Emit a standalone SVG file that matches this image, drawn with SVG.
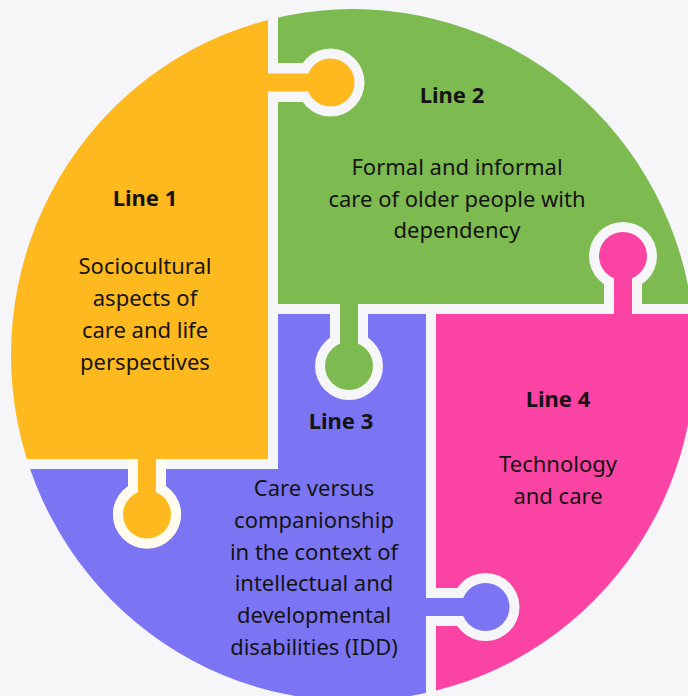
<svg xmlns="http://www.w3.org/2000/svg" xmlns:xlink="http://www.w3.org/1999/xlink" width="688" height="696" viewBox="0 0 688 696">
  <style>
    .bg { fill: #F6F6F8; }
    .yellow { fill: #FEB91E; }
    .green { fill: #7DBB51; }
    .purple { fill: #7C75F3; }
    .pink { fill: #FB43A4; }
    text { font-family: "Noto Sans", "Open Sans", sans-serif; font-size: 22px; fill: #141414; text-anchor: middle; }
    .title { font-weight: bold; }
  </style>
  <defs>
    <!-- outline of the whole puzzle disc -->
    <clipPath id="disc">
      <ellipse cx="353" cy="355" rx="342" ry="346"/>
    </clipPath>
    <!-- socket shapes: knob circle plus neck, 10px wider than the knob itself -->
    <g id="sock-yg"><circle cx="330.5" cy="82.5" r="34"/><rect x="268" y="63" width="62.5" height="39"/></g>
    <g id="sock-pg"><circle cx="623" cy="256" r="34"/><rect x="604" y="256" width="38" height="58"/></g>
    <g id="sock-gp"><circle cx="349" cy="366" r="34"/><rect x="330" y="304" width="38" height="62"/></g>
    <g id="sock-yp"><circle cx="147" cy="514.5" r="34"/><rect x="128" y="459" width="38" height="55.5"/></g>
    <g id="sock-vp"><circle cx="485.5" cy="607" r="34"/><rect x="426" y="588" width="59.5" height="38"/></g>
    <mask id="m-green" maskUnits="userSpaceOnUse" x="0" y="0" width="688" height="696">
      <rect width="688" height="696" fill="#fff"/>
      <use xlink:href="#sock-yg" fill="#000"/>
      <use xlink:href="#sock-pg" fill="#000"/>
    </mask>
    <mask id="m-purple" maskUnits="userSpaceOnUse" x="0" y="0" width="688" height="696">
      <rect width="688" height="696" fill="#fff"/>
      <use xlink:href="#sock-gp" fill="#000"/>
      <use xlink:href="#sock-yp" fill="#000"/>
    </mask>
    <mask id="m-pink" maskUnits="userSpaceOnUse" x="0" y="0" width="688" height="696">
      <rect width="688" height="696" fill="#fff"/>
      <use xlink:href="#sock-vp" fill="#000"/>
    </mask>
  </defs>

  <rect class="bg" width="688" height="696"/>

  <g clip-path="url(#disc)">
    <!-- Line 2: green, top right -->
    <g id="line2">
      <rect class="green" x="278" y="0" width="410" height="304" mask="url(#m-green)"/>
      <!-- knob reaching down into Line 3 -->
      <rect class="green" x="340" y="298" width="18" height="68"/>
      <circle class="green" cx="349" cy="366" r="24"/>
    </g>

    <!-- Line 3: purple, bottom middle -->
    <g id="line3">
      <path class="purple" d="M0 469H278V314H426V696H0Z" mask="url(#m-purple)"/>
      <!-- knob reaching right into Line 4 -->
      <rect class="purple" x="420" y="598" width="65.5" height="18"/>
      <circle class="purple" cx="485.5" cy="607" r="24"/>
    </g>

    <!-- Line 4: pink, bottom right -->
    <g id="line4">
      <rect class="pink" x="436" y="314" width="252" height="382" mask="url(#m-pink)"/>
      <!-- knob reaching up into Line 2 -->
      <rect class="pink" x="614" y="256" width="18" height="64"/>
      <circle class="pink" cx="623" cy="256" r="24"/>
    </g>

    <!-- Line 1: yellow, left -->
    <g id="line1">
      <rect class="yellow" x="0" y="0" width="268" height="459"/>
      <!-- knob reaching right into Line 2 -->
      <rect class="yellow" x="262" y="73.5" width="68.5" height="18"/>
      <circle class="yellow" cx="330.5" cy="82.5" r="24"/>
      <!-- knob reaching down into Line 3, set in a cream rim -->
      <use xlink:href="#sock-yp" fill="#FFFBEE"/>
      <rect class="yellow" x="138" y="453" width="18" height="61.5"/>
      <circle class="yellow" cx="147" cy="514.5" r="24"/>
    </g>
  </g>

  <!-- labels -->
  <g id="labels">
    <g id="label1">
      <text class="title" x="145" y="206">Line 1</text>
      <text x="145" y="274">Sociocultural</text>
      <text x="145" y="306">aspects of</text>
      <text x="145" y="338">care and life</text>
      <text x="145" y="370">perspectives</text>
    </g>
    <g id="label2">
      <text class="title" x="452" y="103">Line 2</text>
      <text x="457" y="175">Formal and informal</text>
      <text x="457" y="207">care of older people with</text>
      <text x="457" y="238">dependency</text>
    </g>
    <g id="label3">
      <text class="title" x="341" y="429">Line 3</text>
      <text x="314" y="496">Care versus</text>
      <text x="314" y="528">companionship</text>
      <text x="314" y="560">in the context of</text>
      <text x="314" y="591">intellectual and</text>
      <text x="314" y="623">developmental</text>
      <text x="314" y="655">disabilities (IDD)</text>
    </g>
    <g id="label4">
      <text class="title" x="558" y="407">Line 4</text>
      <text x="558" y="472">Technology</text>
      <text x="558" y="504">and care</text>
    </g>
  </g>
</svg>
